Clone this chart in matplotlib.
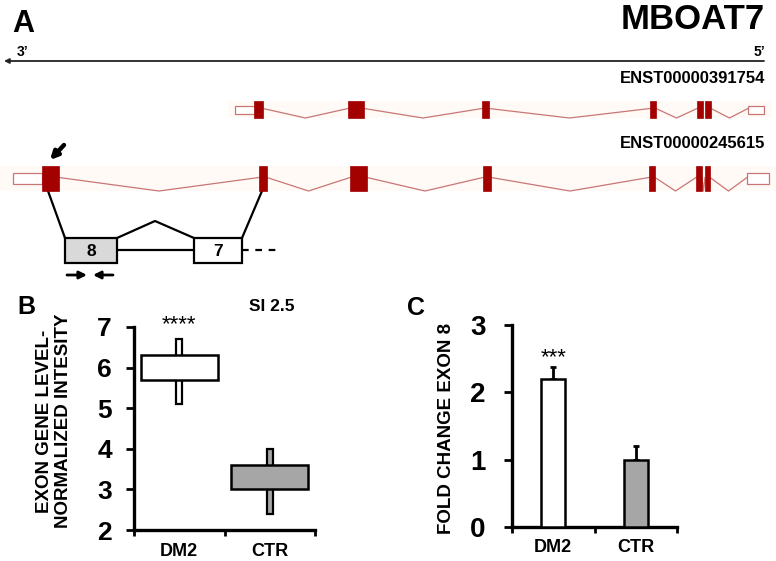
import matplotlib
matplotlib.use("Agg")
import matplotlib.pyplot as plt
from matplotlib.patches import Rectangle

plt.rcParams['font.family'] = ['Liberation Sans', 'DejaVu Sans']
plt.rcParams['font.weight'] = 'bold'

W, H = 776, 561

# ---------------- data ----------------
# gene model (positions along the drawn genomic axis)
t1_name = "ENST00000391754"
t1_exons = [(254, 263), (348, 364), (482, 489), (650, 656), (697, 703), (705, 711)]
t1_utrs = [(235, 255), (748, 764)]
t2_name = "ENST00000245615"
t2_exons = [(42, 59), (259, 267), (350, 367), (483, 491), (649, 655), (696, 702), (705, 710)]
t2_utrs = [(13, 42), (747, 769)]

# panel B (box: low/high, whisker: low/high)
groups = ["DM2", "CTR"]
box_low = [5.7, 3.0]
box_high = [6.3, 3.6]
whisk_low = [5.1, 2.4]
whisk_high = [6.7, 4.0]
b_yticks = [2, 3, 4, 5, 6, 7]

# panel C
fold_change = [2.2, 1.0]
fold_err = [0.18, 0.2]
c_yticks = [0, 1, 2, 3]

fill_colors = ["white", "#a6a6a6"]

fig = plt.figure(figsize=(W / 100, H / 100), dpi=100)

# ---------------- panel A ----------------
axA = fig.add_axes([0, 0, 1, 1])
axA.set_xlim(0, W)
axA.set_ylim(H, 0)
axA.axis("off")

exon_col = "#a30000"
intron_col = "#c97676"
band_col = "#fffaf5"


def draw_transcript(ax, exons, utrs, yc, h, uh, band_x0, band_x1):
    ax.add_patch(Rectangle((band_x0, yc - h / 2), band_x1 - band_x0, h,
                           facecolor=band_col, edgecolor="none", zorder=1))
    feats = sorted([(a, b) for a, b in exons] + [(a, b) for a, b in utrs])
    for (a0, a1), (b0, b1) in zip(feats[:-1], feats[1:]):
        if b0 - a1 > 2:
            mx = (a1 + b0) / 2
            ax.plot([a1, mx, b0], [yc - 1, yc + h / 2, yc - 1], color=intron_col,
                    lw=0.9, zorder=2)
    for a, b in utrs:
        ax.add_patch(Rectangle((a, yc - uh / 2), b - a, uh, facecolor="white",
                               edgecolor=intron_col, lw=0.9, zorder=3))
    for a, b in exons:
        ax.add_patch(Rectangle((a, yc - h / 2), b - a, h, facecolor=exon_col,
                               edgecolor=exon_col, lw=0.5, zorder=4))


axA.text(12, 24, "A", fontsize=22, fontweight="bold", ha="left", va="center")
axA.text(765, 19, "MBOAT7", fontsize=25, fontweight="bold", ha="right", va="center")
axA.text(17, 52, "3\u2019", fontsize=10, fontweight="bold", ha="left", va="center")
axA.text(765, 52, "5\u2019", fontsize=10, fontweight="bold", ha="right", va="center")
axA.annotate("", xy=(4, 61), xytext=(764, 61),
             arrowprops=dict(arrowstyle="-|>", color="#222222", lw=1.3,
                             mutation_scale=7, shrinkA=0, shrinkB=0))
axA.text(765, 78, t1_name, fontsize=12, fontweight="bold", ha="right", va="center")
axA.text(765, 143, t2_name, fontsize=12, fontweight="bold", ha="right", va="center")

draw_transcript(axA, t1_exons, t1_utrs, 109.5, 17, 8, 228, 772)
draw_transcript(axA, t2_exons, t2_utrs, 178.5, 25, 11, 0, 776)

# arrow pointing to exon 8
axA.annotate("", xy=(50, 160), xytext=(64, 145),
             arrowprops=dict(arrowstyle="-|>", color="black", lw=3.2,
                             mutation_scale=11, shrinkA=0, shrinkB=0))

# zoom lines to exon detail
axA.plot([48, 65], [191, 238], color="black", lw=1.6)
axA.plot([262, 242], [191, 238], color="black", lw=1.6)
axA.add_patch(Rectangle((65, 238), 52, 25, facecolor="#d9d9d9", edgecolor="black",
                        lw=1.6, zorder=3))
axA.add_patch(Rectangle((194, 238), 48, 25, facecolor="white", edgecolor="black",
                        lw=1.6, zorder=3))
axA.text(91, 251, "8", fontsize=12.5, fontweight="bold", ha="center", va="center", zorder=4)
axA.text(218, 251, "7", fontsize=12.5, fontweight="bold", ha="center", va="center", zorder=4)
axA.plot([117, 194], [250, 250], color="black", lw=1.6)
axA.plot([117, 155, 194], [238, 221, 238], color="black", lw=1.6)
axA.plot([242, 280], [250, 250], color="black", lw=1.6, ls=(0, (3, 3)))
axA.annotate("", xy=(87, 275), xytext=(67, 275),
             arrowprops=dict(arrowstyle="-|>", color="black", lw=2,
                             mutation_scale=11, shrinkA=0, shrinkB=0))
axA.annotate("", xy=(93, 275), xytext=(113, 275),
             arrowprops=dict(arrowstyle="-|>", color="black", lw=2,
                             mutation_scale=11, shrinkA=0, shrinkB=0))


def px_axes(x0, x1, ytop, ybot):
    return fig.add_axes([x0 / W, 1 - ybot / H, (x1 - x0) / W, (ybot - ytop) / H])


def style_axes(ax, yticks, pad_y, ysize):
    for s in ["top", "right"]:
        ax.spines[s].set_visible(False)
    for s in ["left", "bottom"]:
        ax.spines[s].set_linewidth(2.4)
    ax.set_xlim(-0.5, 1.5)
    ax.set_xticks([0, 1])
    ax.set_xticklabels(groups, fontsize=13, fontweight="bold")
    ax.tick_params(axis="x", length=0, pad=9)
    ax.set_xticks([-0.5, 0.5, 1.5], minor=True)
    ax.tick_params(axis="x", which="minor", length=4, width=2, direction="out")
    ax.set_yticks(yticks)
    ax.set_yticklabels([str(v) for v in yticks], fontsize=ysize, fontweight="bold")
    ax.tick_params(axis="y", length=6, width=2, pad=pad_y)
    ax.patch.set_alpha(0)


# ---------------- panel B ----------------
axB = px_axes(134, 315, 327, 530)
xs = [0, 1]
for i in xs:
    axB.bar(i, whisk_high[i] - whisk_low[i], bottom=whisk_low[i], width=0.065,
            color=fill_colors[i], edgecolor="black", lw=1.6, zorder=2)
    axB.bar(i, box_high[i] - box_low[i], bottom=box_low[i], width=0.85,
            color=fill_colors[i], edgecolor="black", lw=1.8, zorder=3)
axB.set_ylim(2, 7)
style_axes(axB, b_yticks, 10, 19)
axB.text(0, 7.05, "****", fontsize=16, fontweight="normal", ha="center", va="center")
axB.text(1.02, 7.5, "SI 2.5", fontsize=12.5, fontweight="bold", ha="center", va="center")
fig.text(26 / W, 1 - 307 / H, "B", fontsize=18, fontweight="bold", ha="center", va="center")
fig.text(54 / W, 1 - 421 / H, "EXON GENE LEVEL-\nNORMALIZED INTESITY", fontsize=13.5,
         fontweight="bold", rotation=90, ha="center", va="center", linespacing=1.1)

# ---------------- panel C ----------------
axC = px_axes(512, 677, 325, 527)
axC.bar(xs, fold_change, width=0.29, color=fill_colors, edgecolor="black", lw=1.8, zorder=3)
axC.errorbar(xs, fold_change, yerr=[[0, 0], fold_err], fmt="none", ecolor="black",
             elinewidth=2, capsize=2.5, capthick=2, zorder=2)
axC.set_ylim(0, 3)
style_axes(axC, c_yticks, 13, 20)
axC.text(0, fold_change[0] + fold_err[0] + 0.13, "***", fontsize=16, fontweight="normal",
         ha="center", va="center")
fig.text(416 / W, 1 - 308 / H, "C", fontsize=18, fontweight="bold", ha="center", va="center")
fig.text(447 / W, 1 - 428 / H, "FOLD CHANGE EXON 8", fontsize=13.5, fontweight="bold",
         rotation=90, ha="center", va="center")

fig.savefig("out.png", dpi=100)
